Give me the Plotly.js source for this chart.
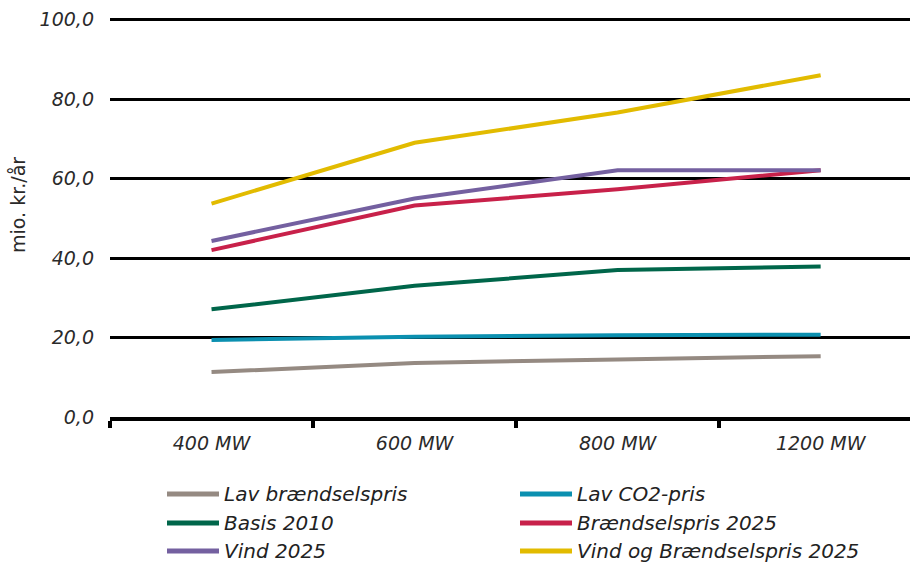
<!DOCTYPE html>
<html>
<head>
<meta charset="utf-8">
<script src="https://cdn.plot.ly/plotly-3.0.1.min.js"></script>
<style>
  html, body { margin: 0; padding: 0; background: #fff; }
  #chart { width: 910px; height: 564px; }
</style>
</head>
<body>
<div id="chart"></div>
<script>
// Installed capacity scenarios (x categories)
const categories = ['400 MW', '600 MW', '800 MW', '1200 MW'];

// Annual value per scenario, mio. kr./år
const lavBraendselspris = [11.3, 13.6, 14.5, 15.3];
const lavCO2pris = [19.4, 20.2, 20.6, 20.7];
const basis2010 = [27.1, 33.0, 37.0, 37.9];
const braendselspris2025 = [42.0, 53.2, 57.3, 62.1];
const vind2025 = [44.3, 55.0, 62.1, 62.1];
const vindOgBraendselspris2025 = [53.7, 69.0, 76.6, 86.0];

const seriesNames = [
  'Lav brændselspris', 'Lav CO2-pris',
  'Basis 2010', 'Brændselspris 2025',
  'Vind 2025', 'Vind og Brændselspris 2025'
];
const seriesValues = [
  lavBraendselspris, lavCO2pris,
  basis2010, braendselspris2025,
  vind2025, vindOgBraendselspris2025
];
const seriesColors = ['#958a82', '#0b90b0', '#00664a', '#c8214a', '#7460a0', '#e2bb00'];

const yTitle = 'mio. kr./år';

const textFont = 'DejaVu Sans, Verdana, sans-serif';

const traces = seriesNames.map((name, i) => ({
  type: 'scatter',
  mode: 'lines',
  name: name,
  x: categories,
  y: seriesValues[i],
  line: { color: seriesColors[i], width: 4 },
  hoverinfo: 'x+y+name',
  showlegend: false
}));

// Pixel helpers for items placed outside the plot area
const plotLeft = 110, plotWidth = 800, plotBottom = 417, plotTop = 18;
const plotHeight = plotBottom - plotTop;
const px = x => (x - plotLeft) / plotWidth;
const py = y => (plotBottom - y) / plotHeight;

// Two-column legend drawn below the plot area
const legendCols = [167, 520];
const legendRows = [494, 523, 551];
const shapes = [];
const annotations = [];
seriesNames.forEach((name, i) => {
  const col = i % 2, row = Math.floor(i / 2);
  const x0 = legendCols[col], yc = legendRows[row];
  shapes.push({
    type: 'line', xref: 'paper', yref: 'paper',
    x0: px(x0), x1: px(x0 + 52), y0: py(yc), y1: py(yc),
    line: { color: seriesColors[i], width: 5 }
  });
  annotations.push({
    xref: 'paper', yref: 'paper',
    x: px(x0 + 55), y: py(yc),
    xanchor: 'left', yanchor: 'middle',
    text: name, showarrow: false,
    font: { family: textFont, size: 20, color: '#222', style: 'italic' }
  });
});

// Vertical unit label on the left
annotations.push({
  xref: 'paper', yref: 'paper',
  x: px(18), y: py(205),
  xanchor: 'center', yanchor: 'middle',
  textangle: -90,
  text: yTitle, showarrow: false,
  font: { family: textFont, size: 19, color: '#2a2a2a' }
});

const layout = {
  width: 910,
  height: 564,
  margin: { l: plotLeft, r: 0, t: plotTop, b: 564 - plotBottom },
  paper_bgcolor: '#ffffff',
  plot_bgcolor: '#ffffff',
  separators: ',.',
  showlegend: false,
  font: { family: textFont, color: '#222' },
  xaxis: {
    type: 'category',
    categoryorder: 'array',
    categoryarray: categories,
    range: [-0.5, 3.44],
    tickson: 'boundaries',
    ticks: 'outside',
    ticklen: 7,
    tickwidth: 4,
    tickcolor: '#000',
    showline: true,
    linecolor: '#000',
    linewidth: 4,
    showgrid: false,
    zeroline: false,
    ticklabelstandoff: 6,
    tickfont: { family: textFont, size: 19, color: '#2a2a2a', style: 'italic' }
  },
  yaxis: {
    range: [0, 100.4],
    dtick: 20,
    tick0: 0,
    tickformat: '.1f',
    showgrid: true,
    gridcolor: '#000',
    gridwidth: 3,
    zeroline: false,
    showline: false,
    ticks: '',
    ticklabelstandoff: 15,
    tickfont: { family: textFont, size: 19, color: '#2a2a2a', style: 'italic' }
  },
  shapes: shapes,
  annotations: annotations
};

Plotly.newPlot('chart', traces, layout, { displayModeBar: false, staticPlot: true });
</script>
</body>
</html>
